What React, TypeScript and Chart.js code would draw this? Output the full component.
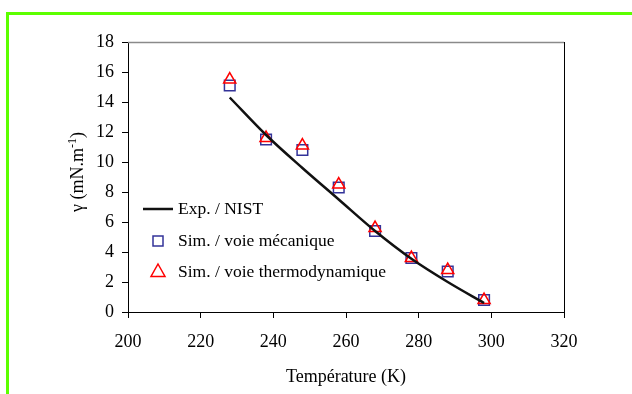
import React, { useEffect, useRef } from "react";
import { Chart, registerables } from "chart.js";

Chart.register(...registerables);

const temperatures = [228, 238, 248, 258, 268, 278, 288, 298];
const nistValues = [14.3, 11.8, 9.6, 7.5, 5.4, 3.55, 2.0, 0.6];
const mecaValues = [15.1, 11.5, 10.8, 8.3, 5.4, 3.6, 2.7, 0.8];
const thermoValues = [15.5, 11.6, 11.1, 8.5, 5.6, 3.6, 2.8, 0.8];

const xTicksMin = 200;
const xTicksMax = 320;
const yTicksMin = 0;
const yTicksMax = 18;

const legendLabels = ["Exp. / NIST", "Sim. / voie mécanique", "Sim. / voie thermodynamique"];
const xTitle = "Température (K)";
const yTitleMain = "γ (mN.m";
const yTitleSup = "-1";
const yTitleEnd = ")";

const FONT = "'Liberation Serif', 'Times New Roman', serif";
const BLUE = "#333399";
const RED = "#FF0000";

const decorPlugin = {
  id: "decor",
  beforeDatasetsDraw(chart: any) {
    const { ctx, chartArea } = chart;
    ctx.save();
    ctx.strokeStyle = "#8a8a8a";
    ctx.lineWidth = 1.5;
    ctx.beginPath();
    ctx.moveTo(chartArea.left, chartArea.top + 0.5);
    ctx.lineTo(chartArea.right, chartArea.top + 0.5);
    ctx.stroke();
    ctx.strokeStyle = "#000";
    ctx.lineWidth = 1;
    ctx.beginPath();
    ctx.moveTo(chartArea.right + 0.5, chartArea.top);
    ctx.lineTo(chartArea.right + 0.5, chartArea.bottom);
    ctx.stroke();
    ctx.restore();
  },
  afterDraw(chart: any) {
    const { ctx, chartArea } = chart;
    ctx.save();
    ctx.fillStyle = "#000";
    // x title
    ctx.font = `18px ${FONT}`;
    ctx.textAlign = "center";
    ctx.textBaseline = "alphabetic";
    ctx.fillText(xTitle, (chartArea.left + chartArea.right) / 2, chartArea.bottom + 70);
    // y title
    ctx.save();
    ctx.translate(chartArea.left - 45, 172);
    ctx.rotate(-Math.PI / 2);
    ctx.textAlign = "left";
    ctx.font = `18px ${FONT}`;
    const w1 = ctx.measureText(yTitleMain).width;
    ctx.font = `12px ${FONT}`;
    const w2 = ctx.measureText(yTitleSup).width;
    ctx.font = `18px ${FONT}`;
    const w3 = ctx.measureText(yTitleEnd).width;
    let x = -(w1 + w2 + w3) / 2;
    ctx.fillText(yTitleMain, x, 0);
    x += w1;
    ctx.font = `12px ${FONT}`;
    ctx.fillText(yTitleSup, x, -7);
    x += w2;
    ctx.font = `18px ${FONT}`;
    ctx.fillText(yTitleEnd, x, 0);
    ctx.restore();

    // legend
    const lx = chartArea.left + 30;
    const tx = chartArea.left + 50;
    const rows = [chartArea.top + 167, chartArea.top + 199, chartArea.top + 230];
    ctx.font = `17.5px ${FONT}`;
    ctx.textAlign = "left";
    ctx.textBaseline = "middle";
    // line sample
    ctx.strokeStyle = "#111";
    ctx.lineWidth = 2.5;
    ctx.beginPath();
    ctx.moveTo(lx - 15, rows[0]);
    ctx.lineTo(lx + 15, rows[0]);
    ctx.stroke();
    ctx.fillText(legendLabels[0], tx, rows[0]);
    // square
    ctx.strokeStyle = BLUE;
    ctx.lineWidth = 1.5;
    ctx.strokeRect(lx - 5, rows[1] - 5, 10, 10);
    ctx.fillText(legendLabels[1], tx, rows[1]);
    // triangle
    ctx.strokeStyle = RED;
    ctx.beginPath();
    ctx.moveTo(lx, rows[2] - 8);
    ctx.lineTo(lx + 7, rows[2] + 4.5);
    ctx.lineTo(lx - 7, rows[2] + 4.5);
    ctx.closePath();
    ctx.stroke();
    ctx.fillText(legendLabels[2], tx, rows[2]);
    ctx.restore();
  },
};

export default function App() {
  const ref = useRef<HTMLCanvasElement | null>(null);
  useEffect(() => {
    if (!ref.current) return;
    const chart = new Chart(ref.current, {
      type: "scatter",
      data: {
        datasets: [
          {
            label: legendLabels[0],
            data: temperatures.map((t, i) => ({ x: t, y: nistValues[i] })),
            showLine: true,
            borderColor: "#111",
            borderWidth: 2.5,
            pointRadius: 0,
            cubicInterpolationMode: "monotone",
            order: 0,
          } as any,
          {
            label: legendLabels[1],
            data: temperatures.map((t, i) => ({ x: t, y: mecaValues[i] })),
            pointStyle: "rect",
            pointRadius: 7.5,
            borderColor: BLUE,
            backgroundColor: "rgba(0,0,0,0)",
            borderWidth: 1.5,
            order: 2,
          },
          {
            label: legendLabels[2],
            data: temperatures.map((t, i) => ({ x: t, y: thermoValues[i] })),
            pointStyle: "triangle",
            pointRadius: 7,
            borderColor: RED,
            backgroundColor: "rgba(0,0,0,0)",
            borderWidth: 1.5,
            order: 1,
          },
        ],
      },
      options: {
        animation: false,
        responsive: false,
        layout: { padding: { left: 0, top: 42, right: 68, bottom: 0 } },
        plugins: { legend: { display: false }, tooltip: { enabled: false } },
        scales: {
          x: {
            type: "linear",
            min: xTicksMin,
            max: xTicksMax,
            ticks: { stepSize: 20, color: "#000", font: { family: FONT, size: 18 }, padding: 13, maxRotation: 0 },
            grid: { drawOnChartArea: false, drawTicks: true, tickLength: 6, color: "#000" },
            border: { display: true, color: "#000", width: 1 },
            afterFit: (s: any) => { s.height = 82; },
          },
          y: {
            min: yTicksMin,
            max: yTicksMax,
            ticks: { stepSize: 2, color: "#000", font: { family: FONT, size: 18 }, padding: 8 },
            grid: { drawOnChartArea: false, drawTicks: true, tickLength: 6, color: "#000" },
            border: { display: true, color: "#000", width: 1 },
            afterFit: (s: any) => { s.width = 128; },
          },
        },
      },
      plugins: [decorPlugin],
    });
    return () => chart.destroy();
  }, []);
  return (
    <div style={{ position: "absolute", left: 0, top: 0, width: 632, height: 394, background: "#fff", overflow: "hidden" }}>
      <div style={{ position: "absolute", left: 6, top: 12, width: 640, height: 400, borderLeft: "3px solid #5CFF00", borderTop: "3px solid #5CFF00" }} />
      <canvas ref={ref} width={632} height={394} style={{ position: "absolute", left: 0, top: 0, width: 632, height: 394 }} />
    </div>
  );
}
